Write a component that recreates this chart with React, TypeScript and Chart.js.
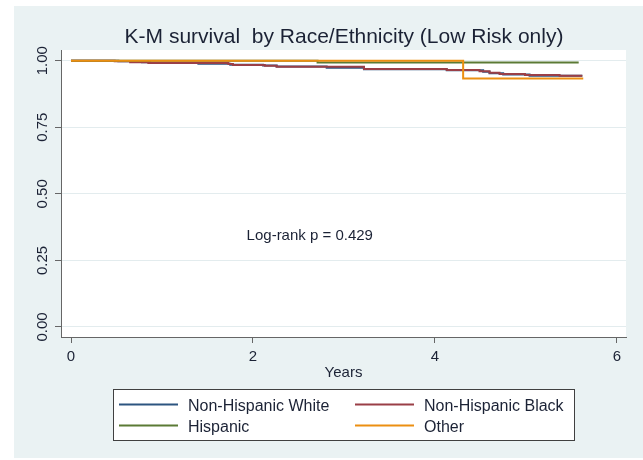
import React, { useEffect, useRef } from "react";
import { Chart, registerables } from "chart.js";

Chart.register(...registerables);

const TITLE = "K-M survival  by Race/Ethnicity (Low Risk only)";
const X_TITLE = "Years";
const ANNOTATION = "Log-rank p = 0.429";
const ANNOT_X = 1.93;
const ANNOT_Y = 0.325;

const X_TICKS = [0, 2, 4, 6];
const Y_TICKS = [0, 0.25, 0.5, 0.75, 1];
const Y_TICK_LABELS = ["0.00", "0.25", "0.50", "0.75", "1.00"];
const X_TICK_LABELS = ["0", "2", "4", "6"];

const GROUPS = ["Non-Hispanic White", "Non-Hispanic Black", "Hispanic", "Other"];
const COLORS = ["#2c5580", "#9a3f47", "#5b7a35", "#ec8f12"];

const whiteTimes = [0, 0.52, 0.78, 0.87, 1.4, 1.75, 2.11, 2.26, 2.81, 3.22, 4.13, 4.53, 4.6, 4.75, 5.04, 5.62];
const whiteSurv = [1, 0.998, 0.994, 0.991, 0.988, 0.985, 0.982, 0.978, 0.973, 0.968, 0.964, 0.958, 0.953, 0.948, 0.943, 0.943];

const blackTimes = [0, 0.48, 0.65, 0.85, 1.73, 1.78, 2.13, 2.26, 3.22, 4.13, 4.49, 4.6, 4.71, 4.99, 5.37, 5.62];
const blackSurv = [1, 0.998, 0.994, 0.991, 0.987, 0.984, 0.981, 0.977, 0.969, 0.965, 0.96, 0.955, 0.95, 0.946, 0.943, 0.943];

const hispTimes = [0, 2.71, 5.58];
const hispSurv = [1, 0.993, 0.993];

const otherTimes = [0, 4.31, 5.63];
const otherSurv = [1, 0.933, 0.933];

const FONT = "'Liberation Sans', Arial, sans-serif";
const TEXT = "#1b2235";

function pts(t: number[], s: number[]) {
  return t.map((x, i) => ({ x, y: s[i] }));
}

export default function App() {
  const ref = useRef<HTMLCanvasElement | null>(null);
  useEffect(() => {
    const canvas = ref.current;
    if (!canvas) return;
    const series = [
      pts(whiteTimes, whiteSurv),
      pts(blackTimes, blackSurv),
      pts(hispTimes, hispSurv),
      pts(otherTimes, otherSurv),
    ];
    const orders = [4, 3, 2, 1];
    const decor = {
      id: "decor",
      beforeDraw(chart: any) {
        const ctx = chart.ctx;
        const a = chart.chartArea;
        ctx.save();
        ctx.fillStyle = "#ffffff";
        ctx.fillRect(0, 0, chart.width, chart.height);
        ctx.fillStyle = "#eaf2f3";
        ctx.fillRect(14, 6, chart.width - 14, 452);
        ctx.fillStyle = "#ffffff";
        ctx.fillRect(a.left, a.top, a.right - a.left, a.bottom - a.top);
        ctx.restore();
      },
      afterDraw(chart: any) {
        const ctx = chart.ctx;
        const a = chart.chartArea;
        const xs = chart.scales.x;
        const ys = chart.scales.y;
        ctx.save();
        ctx.fillStyle = TEXT;
        ctx.font = `21px ${FONT}`;
        ctx.textAlign = "center";
        ctx.textBaseline = "alphabetic";
        ctx.fillText(TITLE, 344, 43);
        ctx.font = `15px ${FONT}`;
        Y_TICKS.forEach((v, i) => {
          const y = ys.getPixelForValue(v);
          ctx.save();
          ctx.translate(47, y);
          ctx.rotate(-Math.PI / 2);
          ctx.textAlign = "center";
          ctx.fillText(Y_TICK_LABELS[i], 0, 0);
          ctx.restore();
        });
        X_TICKS.forEach((v, i) => {
          const x = xs.getPixelForValue(v);
          ctx.textAlign = "center";
          ctx.fillText(X_TICK_LABELS[i], x, 360.5);
        });
        ctx.fillText(X_TITLE, (a.left + a.right) / 2, 376.5);
        ctx.textAlign = "left";
        ctx.fillText(ANNOTATION, xs.getPixelForValue(ANNOT_X), ys.getPixelForValue(ANNOT_Y));
        ctx.fillStyle = "#ffffff";
        ctx.fillRect(113, 389, 461, 51);
        ctx.strokeStyle = "#404040";
        ctx.lineWidth = 1;
        ctx.strokeRect(113.5, 389.5, 461, 51);
        const cols = [
          { x0: 119, x1: 178, tx: 188 },
          { x0: 355, x1: 414, tx: 424 },
        ];
        const rows = [404.5, 425.5];
        ctx.font = `16px ${FONT}`;
        GROUPS.forEach((g, i) => {
          const c = cols[i % 2];
          const r = rows[Math.floor(i / 2)];
          ctx.strokeStyle = COLORS[i];
          ctx.lineWidth = 2;
          ctx.beginPath();
          ctx.moveTo(c.x0, r);
          ctx.lineTo(c.x1, r);
          ctx.stroke();
          ctx.fillStyle = TEXT;
          ctx.textAlign = "left";
          ctx.fillText(g, c.tx, r + 6);
        });
        ctx.restore();
      },
    };
    const chart = new Chart(canvas, {
      type: "line",
      data: {
        datasets: series.map((d, i) => ({
          label: GROUPS[i],
          data: d,
          borderColor: COLORS[i],
          backgroundColor: COLORS[i],
          borderWidth: 2,
          pointRadius: 0,
          stepped: true,
          fill: false,
          order: orders[i],
        })),
      },
      options: {
        animation: false,
        responsive: false,
        events: [],
        layout: { padding: { left: 0, top: 50, right: 17, bottom: 0 } },
        plugins: {
          legend: { display: false },
          title: { display: false },
          tooltip: { enabled: false },
        },
        scales: {
          x: {
            type: "linear",
            min: -0.11,
            max: 6.1,
            afterBuildTicks: (s: any) => {
              s.ticks = X_TICKS.map((v) => ({ value: v }));
            },
            afterFit: (s: any) => {
              s.height = 123;
            },
            ticks: { display: false },
            grid: { drawOnChartArea: false, drawTicks: true, tickLength: 6, tickColor: "#666666" },
            border: { display: true, color: "#666666", width: 1 },
          },
          y: {
            type: "linear",
            min: -0.0376,
            max: 1.04,
            afterBuildTicks: (s: any) => {
              s.ticks = Y_TICKS.map((v) => ({ value: v }));
            },
            afterFit: (s: any) => {
              s.width = 61;
            },
            ticks: { display: false },
            grid: { color: "#e3ecee", lineWidth: 1, drawTicks: true, tickLength: 6, tickColor: "#666666" },
            border: { display: true, color: "#666666", width: 1 },
          },
        },
      },
      plugins: [decor],
    } as any);
    return () => chart.destroy();
  }, []);
  return (
    <canvas
      ref={ref}
      width={643}
      height={460}
      style={{ position: "absolute", left: 0, top: 0, width: 643, height: 460, display: "block" }}
    />
  );
}
